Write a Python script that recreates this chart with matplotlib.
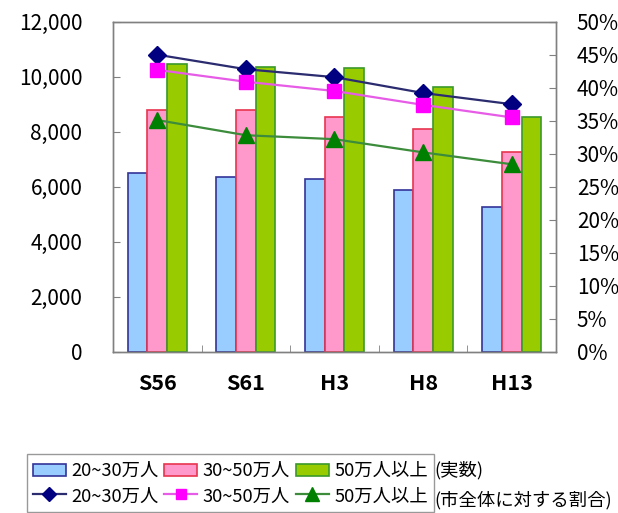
import matplotlib
matplotlib.use("Agg")
import matplotlib.pyplot as plt
import numpy as np
from matplotlib.patches import Patch
from matplotlib.lines import Line2D
from matplotlib.ticker import FuncFormatter, MultipleLocator

plt.rcParams['font.family'] = ['Noto Sans CJK JP', 'DejaVu Sans']

# 調査年
years = ["S56", "S61", "H3", "H8", "H13"]

# 実数（事業所数）
count_20_30 = [6500, 6350, 6270, 5870, 5250]
count_30_50 = [8800, 8800, 8520, 8100, 7270]
count_50_plus = [10450, 10350, 10300, 9630, 8520]

# 市全体に対する割合（%）
share_20_30 = [45.0, 42.8, 41.6, 39.2, 37.5]
share_30_50 = [42.7, 40.9, 39.5, 37.4, 35.5]
share_50_plus = [35.1, 32.8, 32.2, 30.2, 28.4]

series_names = ["20~30万人", "30~50万人", "50万人以上"]

bar_fill = ["#99CCFF", "#FF99CC", "#99CC00"]
bar_edge = ["#333399", "#E8354F", "#3A9A2A"]
line_col = ["#2B2B70", "#E65CE6", "#3C8C3C"]
mark_col = ["#000080", "#FF00FF", "#008000"]
markers = ["D", "s", "^"]
msizes = [9, 9.5, 12]

fig = plt.figure(figsize=(6.18, 5.13), dpi=100)
ax = fig.add_axes([0.1828, 0.3144, 0.7169, 0.6433])

x = np.arange(len(years))
w = 0.222
counts = [count_20_30, count_30_50, count_50_plus]
for i, vals in enumerate(counts):
    ax.bar(x + (i - 1) * w, vals, width=w, color=bar_fill[i],
           edgecolor=bar_edge[i], linewidth=1.2, zorder=2)

ax.set_xlim(-0.5, len(years) - 0.5)
ax.set_ylim(0, 12000)
ax.yaxis.set_major_locator(MultipleLocator(2000))
ax.yaxis.set_major_formatter(FuncFormatter(lambda v, p: f"{int(v):,}"))
ax.set_xticks(x)
ax.set_xticklabels(years, fontsize=15.5, fontweight='bold')
ax.set_xticks(np.arange(-0.5, len(years)), minor=True)
ax.tick_params(axis='x', which='major', length=0, pad=15)
ax.tick_params(axis='x', which='minor', direction='in', length=5, color='#808080')
ax.tick_params(axis='y', direction='in', length=5, color='#808080',
               labelsize=15, pad=22)

ax2 = ax.twinx()
ax2.set_ylim(0, 50)
ax2.yaxis.set_major_locator(MultipleLocator(5))
ax2.yaxis.set_major_formatter(FuncFormatter(lambda v, p: f"{int(v)}%"))
ax2.tick_params(axis='y', direction='in', length=5, color='#808080',
                labelsize=15, pad=15)

shares = [share_20_30, share_30_50, share_50_plus]
for i, vals in enumerate(shares):
    ax2.plot(x, vals, color=line_col[i], linewidth=1.6, marker=markers[i],
             markersize=msizes[i], markerfacecolor=mark_col[i],
             markeredgecolor=mark_col[i], zorder=3)

for a in (ax, ax2):
    for s in a.spines.values():
        s.set_color('#808080')
        s.set_linewidth(1.0)

# 凡例：上段が実数、下段が割合
handles = []
labels = []
for i in range(3):
    handles.append(Patch(facecolor=bar_fill[i], edgecolor=bar_edge[i], linewidth=1.2))
    labels.append(series_names[i])
    handles.append(Line2D([], [], color=line_col[i], linewidth=1.6,
                          marker=markers[i], markersize=msizes[i] * 0.8,
                          markerfacecolor=mark_col[i], markeredgecolor=mark_col[i]))
    labels.append(series_names[i])

leg = fig.legend(handles, labels, ncol=3, loc='upper left',
                 bbox_to_anchor=(0.043, 0.115), fontsize=13.2, frameon=True,
                 fancybox=False, edgecolor='#808080', handlelength=1.8,
                 handleheight=1.25, handletextpad=0.3, columnspacing=0.3,
                 labelspacing=0.3, borderpad=0.35, borderaxespad=0)
leg.get_frame().set_linewidth(1.0)
for p in leg.get_patches():
    p.set_height(p.get_height() * 0.65)
    p.set_y(p.get_y() + p.get_height() * 0.27)

fig.text(0.703, 0.083, "(実数)", fontsize=13.2, va='center', ha='left')
fig.text(0.703, 0.025, "(市全体に対する割合)", fontsize=13.2, va='center', ha='left')

fig.savefig("out.png", dpi=100)
